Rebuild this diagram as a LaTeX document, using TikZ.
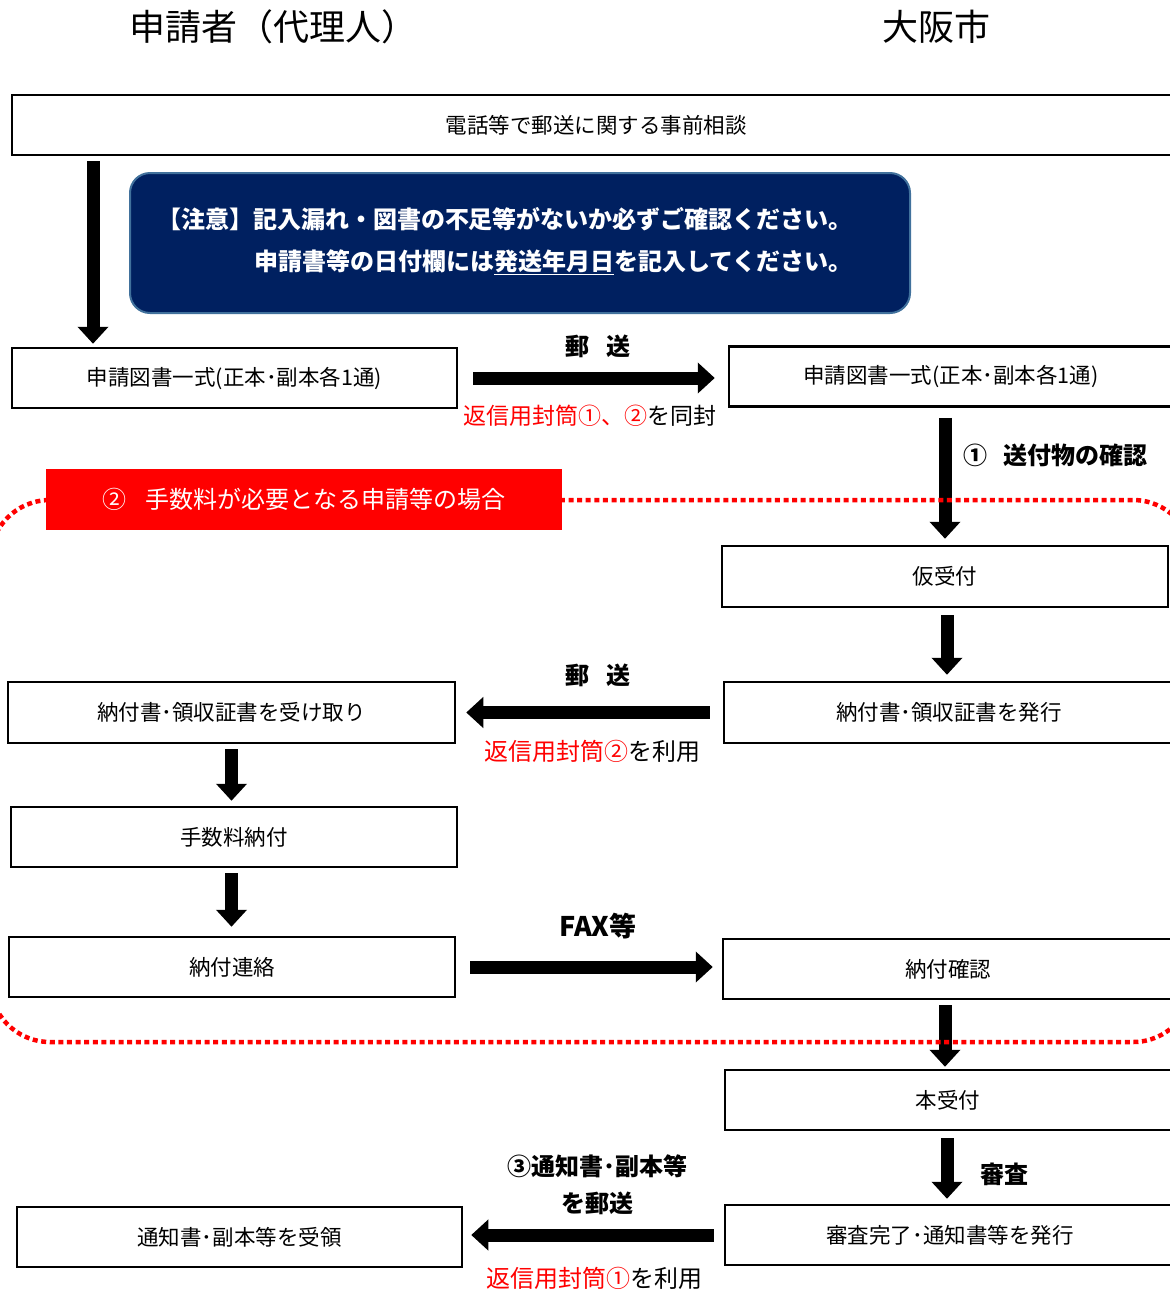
\documentclass[tikz,border=0pt]{standalone}
\usepackage{fontspec}
\setmainfont{Noto Sans CJK JP}
\usetikzlibrary{arrows.meta}
\definecolor{navy}{RGB}{0,32,96}
\definecolor{navyedge}{RGB}{65,113,156}
\definecolor{pureRed}{RGB}{255,0,0}
\begin{document}
\begin{tikzpicture}[x=1pt,y=-1pt,
  box/.style={draw=black,line width=2.5pt,fill=white,inner sep=0pt,minimum height=60pt,font=\fontsize{21.5}{26}\selectfont},
  bigarrow/.style={line width=13pt,-{Triangle[width=30pt,length=17pt]}},
  boldlbl/.style={inner sep=0pt,font=\fontsize{24}{37}\selectfont\bfseries},
  redlbl/.style={inner sep=0pt,font=\fontsize{24}{28}\selectfont},
  hdr/.style={inner sep=0pt,font=\fontsize{36}{40}\selectfont},
  feezone/.style={draw=pureRed,line width=4.5pt,dash pattern=on 5pt off 3.6pt,rounded corners=60pt}
]
\useasboundingbox (0,0) rectangle (1170,1291);

% headers
\node[hdr] (hdrL) at (273,27) {申請者（代理人）};
\node[hdr] (hdrR) at (936,27) {大阪市};

% top consultation box
\node[box,minimum width=1168pt] (top) at (596,125) {電話等で郵送に関する事前相談};

% notice box
\node[draw=navyedge,line width=2pt,fill=navy,rounded corners=20pt,minimum width=780pt,minimum height=140pt,inner sep=0pt] (note) at (520,243) {};
\node[inner sep=0pt,text=white,align=right,font=\fontsize{24}{42}\selectfont\bfseries] (notetext) at (505,241)
  {【注意】記入漏れ・図書の不足等がないか必ずご確認ください。\\申請書等の日付欄には\underline{発送年月日}を記入してください。};

% boxes
\node[box,minimum width=445pt] (L1) at (234.5,378) {申請図書一式(正本･副本各1通)};
\node[box,minimum width=444pt] (R1) at (951,376.5) {申請図書一式(正本･副本各1通)};
\node[box,minimum width=446pt,minimum height=61pt] (kari) at (945,576.5) {仮受付};
\node[box,minimum width=450pt,minimum height=61pt] (hakko) at (949,712.5) {納付書･領収証書を発行};
\node[box,minimum width=447pt,minimum height=61pt] (uketori) at (231.5,712.5) {納付書･領収証書を受け取り};
\node[box,minimum width=446pt] (nofu) at (234,837) {手数料納付};
\node[box,minimum width=446pt] (renraku) at (232,967) {納付連絡};
\node[box,minimum width=450pt] (kakunin) at (948,969) {納付確認};
\node[box,minimum width=446pt] (honuke) at (948,1100) {本受付};
\node[box,minimum width=450pt] (shinsa) at (950,1235) {審査完了･通知書等を発行};
\node[box,minimum width=445pt] (juryo) at (239.5,1237) {通知書･副本等を受領};

% labels
\node[boldlbl] (yuso1) at (598,346) {郵\hspace{0.7em}送};
\node[redlbl,font=\fontsize{23}{28}\selectfont] (dofu) at (590,416) {\textcolor{pureRed}{返信用封筒①、②}を同封};
\node[boldlbl,anchor=west] (kakuninlbl) at (963,455) {①\hspace{0.7em}送付物の確認};
\node[boldlbl] (yuso2) at (598,675) {郵\hspace{0.7em}送};
\node[redlbl] (riyo2) at (592,751) {\textcolor{pureRed}{返信用封筒②}を利用};
\node[boldlbl,font=\fontsize{27}{30}\selectfont\bfseries] (fax) at (598,926) {FAX等};
\node[boldlbl] (shinsalbl) at (1004,1174) {審査};
\node[boldlbl,align=center] (tsuchi) at (597,1185) {③通知書･副本等\\を郵送};
\node[redlbl] (riyo1) at (594,1278) {\textcolor{pureRed}{返信用封筒①}を利用};

% arrows
\coordinate (acol) at (93,0);
\draw[bigarrow,shorten <=5pt,shorten >=3pt] (top.south -| acol) -- (L1.north -| acol);
\draw[bigarrow,shorten <=15pt,shorten >=13pt] (L1.east) -- (L1.east -| R1.west);
\draw[bigarrow,shorten <=10pt,shorten >=6pt] (R1.south -| kari.north) -- (kari.north);
\draw[bigarrow,shorten <=7pt,shorten >=6pt] (kari.south -| 947,0) -- (hakko.north -| 947,0);
\draw[bigarrow,shorten <=13pt,shorten >=10pt] (hakko.west) -- (hakko.west -| uketori.east);
\draw[bigarrow,shorten <=5pt,shorten >=5pt] (uketori.south) -- (uketori.south |- nofu.north);
\draw[bigarrow,shorten <=5pt,shorten >=9pt] (nofu.south -| uketori.south) -- (renraku.north -| uketori.south);
\draw[bigarrow,shorten <=14pt,shorten >=9pt] (renraku.east) -- (renraku.east -| kakunin.west);
\draw[bigarrow,shorten <=5pt,shorten >=2pt] (kakunin.south -| 945,0) -- (honuke.north -| 945,0);
\draw[bigarrow,shorten <=7pt,shorten >=5pt] (honuke.south -| 947,0) -- (shinsa.north -| 947,0);
\draw[bigarrow,shorten <=10pt,shorten >=8pt] (shinsa.west) -- (shinsa.west -| juryo.east);

% fee zone (dotted)
\draw[feezone] (-10,500) rectangle (1193,1042);

% red heading
\node[fill=pureRed,text=white,minimum width=516pt,minimum height=61pt,inner sep=0pt,font=\fontsize{24}{28}\selectfont] (feehead) at (304,499.5) {②\hspace{0.8em}手数料が必要となる申請等の場合};
\end{tikzpicture}
\end{document}
